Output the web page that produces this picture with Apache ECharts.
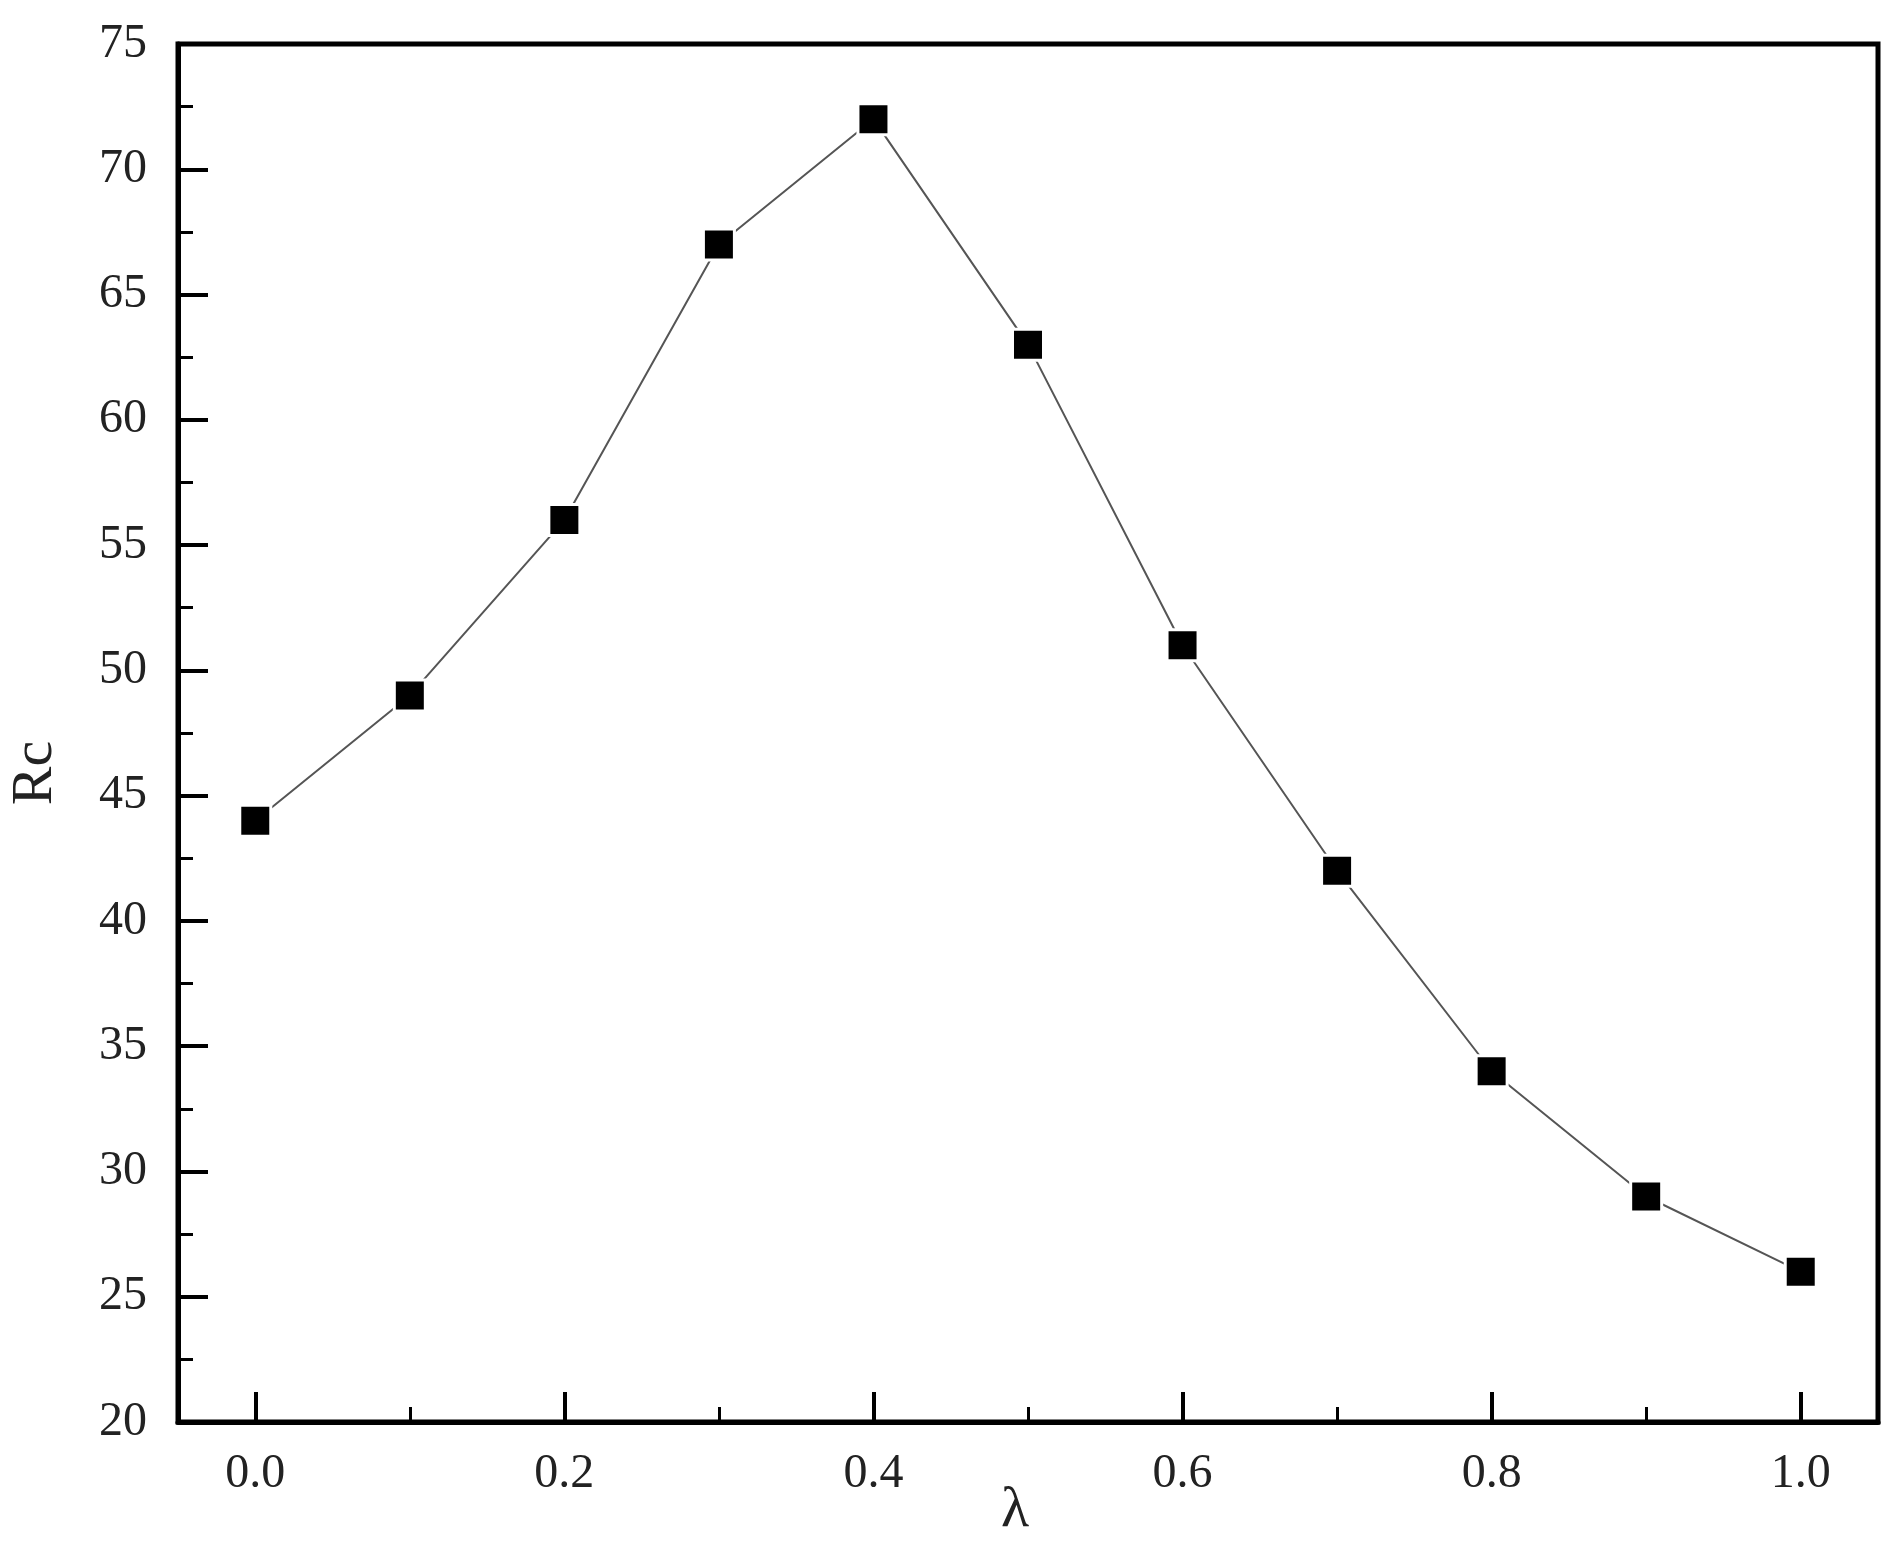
<!DOCTYPE html>
<html>
<head>
<meta charset="utf-8">
<script src="https://cdn.jsdelivr.net/npm/echarts@6/dist/echarts.min.js"></script>
<style>
    html, body { margin: 0; padding: 0; background: #fff; }
    #chart { width: 1896px; height: 1541px; }
</style>
</head>
<body>
<div id="chart"></div>
<script>
// data
const lambdas = [0.0, 0.1, 0.2, 0.3, 0.4, 0.5, 0.6, 0.7, 0.8, 0.9, 1.0];
const rcValues = [44, 49, 56, 67, 72, 63, 51, 42, 34, 29, 26];
const xMajorTicks = [0.0, 0.2, 0.4, 0.6, 0.8, 1.0];
const xMinorTicks = [0.1, 0.3, 0.5, 0.7, 0.9];

const serif = 'Liberation Serif';

const chart = echarts.init(document.getElementById('chart'));

let option = {
    animation: false,
    backgroundColor: '#fff',
    grid: {
        left: 178,
        right: 18,
        top: 44,
        bottom: 119,
        outerBoundsMode: 'none',
        show: true,
        borderColor: '#000',
        borderWidth: 5,
        backgroundColor: 'transparent'
    },
    xAxis: [{
        type: 'value',
        min: -0.05,
        max: 1.05,
        name: 'λ',
        nameLocation: 'middle',
        nameGap: 60,
        nameMoveOverlap: false,
        nameTextStyle: { fontFamily: serif, fontSize: 58, color: '#222', padding: [0, 26, 0, 0] },
        axisLine: { show: true, onZero: false, lineStyle: { color: '#000', width: 5 } },
        axisTick: {
            show: true,
            inside: true,
            length: 30,
            customValues: xMajorTicks,
            lineStyle: { color: '#000', width: 4 }
        },
        axisLabel: {
            customValues: xMajorTicks,
            margin: 28,
            fontFamily: serif,
            fontSize: 48,
            color: '#222',
            formatter: (v) => v.toFixed(1)
        },
        splitLine: { show: false }
    }, {
        // second x axis only for the short ticks in between
        type: 'value',
        position: 'bottom',
        min: -0.05,
        max: 1.05,
        axisLine: { show: false, onZero: false },
        axisTick: {
            show: true,
            inside: true,
            length: 15,
            customValues: xMinorTicks,
            lineStyle: { color: '#000', width: 3 }
        },
        axisLabel: { show: false },
        splitLine: { show: false }
    }],
    yAxis: {
        type: 'value',
        min: 20,
        max: 75,
        interval: 5,
        name: 'Rc',
        nameLocation: 'middle',
        nameGap: 113,
        nameMoveOverlap: false,
        nameTextStyle: { fontFamily: serif, fontSize: 58, color: '#222', padding: [0, 80, 0, 0] },
        axisLine: { show: true, onZero: false, lineStyle: { color: '#000', width: 5 } },
        axisTick: {
            show: true,
            inside: true,
            length: 30,
            lineStyle: { color: '#000', width: 4 }
        },
        minorTick: {
            show: true,
            splitNumber: 2,
            length: 15,
            lineStyle: { color: '#000', width: 3 }
        },
        axisLabel: {
            margin: 31,
            fontFamily: serif,
            fontSize: 48,
            color: '#222'
        },
        splitLine: { show: false },
        minorSplitLine: { show: false }
    },
    series: [{
        type: 'line',
        data: lambdas.map((x, i) => [x, rcValues[i]]),
        symbol: 'rect',
        symbolSize: 31,
        itemStyle: { color: '#000', borderColor: '#fff', borderWidth: 3 },
        lineStyle: { color: '#555', width: 2 },
        z: 3
    }]
};

chart.setOption(option);
</script>
</body>
</html>
